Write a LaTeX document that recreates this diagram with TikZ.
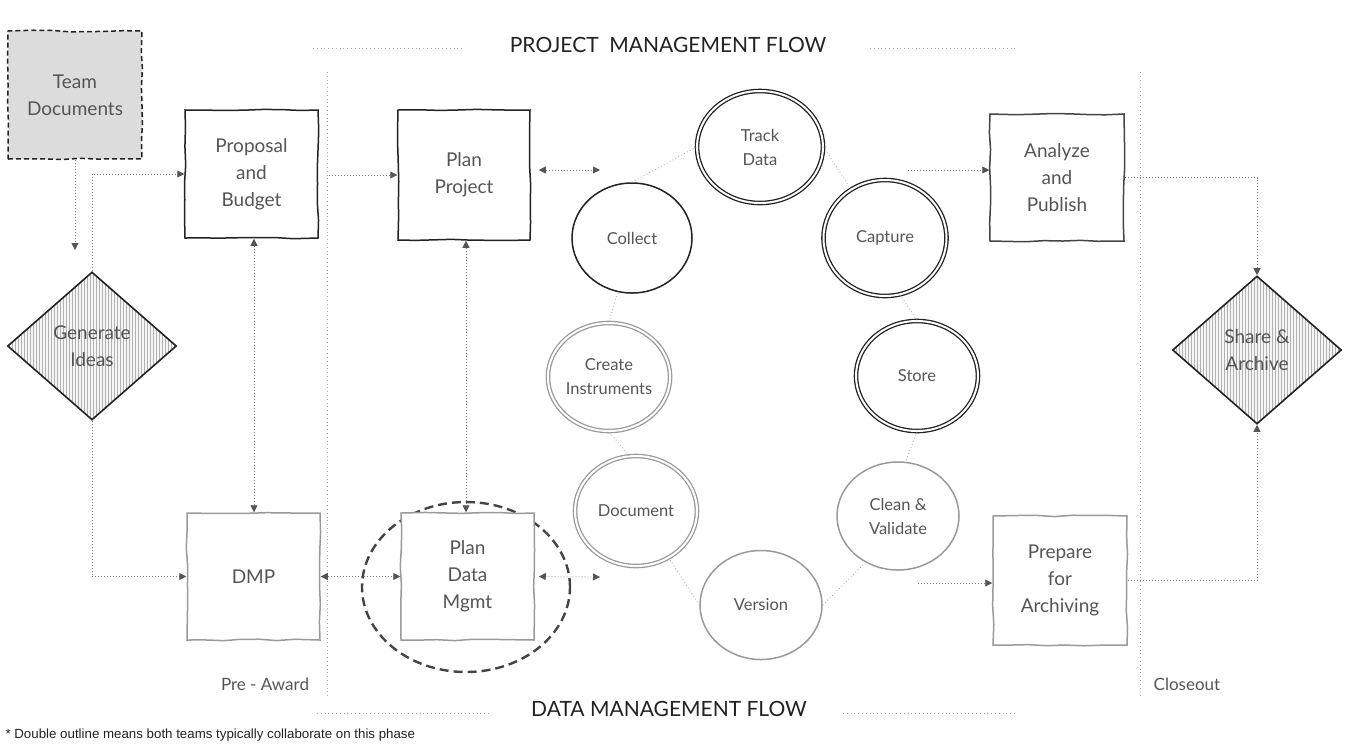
\documentclass[tikz,border=0pt]{standalone}
\usepackage{fontspec}
\setmainfont{Lato}
\newfontfamily\notefont{Liberation Sans}
\usetikzlibrary{shapes.geometric,arrows.meta,patterns,decorations.pathmorphing,calc}
\definecolor{ink}{HTML}{222222}
\definecolor{txt}{HTML}{555555}
\definecolor{lightline}{HTML}{9A9A9A}
\definecolor{midline}{HTML}{444444}
\definecolor{conn}{HTML}{7A7A7A}
\definecolor{tipc}{HTML}{555555}
\definecolor{sepc}{HTML}{AAAAAA}
\definecolor{tdfill}{HTML}{DCDCDC}
\begin{document}
\begin{tikzpicture}[x=1pt,y=-1pt,
  sk/.style={decorate,decoration={random steps,segment length=18pt,amplitude=0.8pt}},
  box/.style={rectangle,draw=#1,line width=1.5pt,fill=white,minimum width=133pt,minimum height=128pt,inner sep=0pt,align=center,text=txt,font=\fontsize{19}{27}\selectfont,sk},
  circ/.style={ellipse,inner sep=0pt,align=center,text=txt,fill=white,font=\fontsize{16.5}{24}\selectfont},
  dblk/.style={circ,draw=ink,line width=1.3pt,double=white,double distance=2pt},
  dbgr/.style={circ,draw=lightline,line width=1.3pt,double=white,double distance=2pt},
  sgbk/.style={circ,draw=ink,line width=1.5pt},
  sggr/.style={circ,draw=lightline,line width=1.5pt},
  dia/.style={diamond,draw=ink,line width=1.6pt,minimum width=169pt,minimum height=148pt,inner sep=0pt,aspect=1.14,align=center,text=txt,font=\fontsize{19}{27}\selectfont,preaction={fill=gray!8},pattern=vertical lines,pattern color=gray!60},
  flow/.style={draw=conn,line width=0.8pt,dash pattern=on 0.8pt off 2.2pt},
  tip/.style={-{Triangle[length=7pt,width=7pt,color=tipc]}},
  tips/.style={{Triangle[length=7pt,width=7pt,color=tipc]}-{Triangle[length=7pt,width=7pt,color=tipc]}},
  ring/.style={draw=sepc,line width=0.8pt,dash pattern=on 0.8pt off 2.5pt},
  sepline/.style={draw=sepc,line width=0.8pt,dash pattern=on 0.8pt off 3pt},
  lbl/.style={text=txt,font=\fontsize{17}{20}\selectfont},
  ttl/.style={text=ink,font=\fontsize{21}{24}\selectfont}
]
\useasboundingbox (0,0) rectangle (1349,748);

% separators and titles
\draw[sepline] (327,72) -- (327,697);
\draw[sepline] (1140,72) -- (1140,697);
\draw[sepline] (313,48) -- (465,48);
\draw[sepline] (870,48) -- (1015,48);
\draw[sepline] (317,713) -- (490,713);
\draw[sepline] (843,713) -- (1015,713);
\node[ttl] (ttop) at (668,45) {PROJECT\ \ MANAGEMENT FLOW};
\node[ttl] (tbot) at (669,709) {DATA MANAGEMENT FLOW};
\node[lbl] (pre) at (265,684) {Pre - Award};
\node[lbl] (close) at (1187,684) {Closeout};
\node[anchor=west,text=ink,font=\notefont\fontsize{13.3}{15}\selectfont] (note) at (2,735) {* Double outline means both teams typically collaborate on this phase};

% boxes
\node[box=ink,fill=tdfill,dash pattern=on 5pt off 3pt,minimum width=134pt] (td) at (75,95) {Team\\Documents};
\node[box=ink] (prop) at (251.5,174) {Proposal\\and\\Budget};
\node[box=lightline,minimum height=127pt] (dmp) at (253.5,576.5) {DMP};
\node[box=ink,minimum width=132pt,minimum height=130pt] (pp) at (464,175) {Plan\\Project};
\node[draw=midline,line width=2.4pt,dash pattern=on 9pt off 5pt,ellipse,minimum width=208pt,minimum height=170pt,inner sep=0pt] (pdmring) at (466,587) {};
\node[box=lightline,minimum height=127pt] (pdm) at (467.5,576.5) {Plan\\Data\\Mgmt};
\node[box=midline,minimum width=134pt,minimum height=127pt] (ap) at (1057,177.5) {Analyze\\and\\Publish};
\node[box=lightline,minimum width=134pt,minimum height=129pt] (pa) at (1060,580.5) {Prepare\\for\\Archiving};

% diamonds
\node[dia] (gi) at (92,346) {Generate\\Ideas};
\node[dia] (sa) at (1257,350) {Share \&\\Archive};

% cycle circles
\node[dblk,minimum width=126pt,minimum height=112pt] (track) at (760,147) {Track\\Data};
\node[dblk,minimum width=123pt,minimum height=116pt] (capture) at (885,238) {Capture};
\node[dblk,minimum width=122pt,minimum height=110pt] (store) at (917,376) {Store};
\node[sggr,minimum width=122pt,minimum height=108pt] (clean) at (898,516) {Clean \&\\Validate};
\node[sggr,minimum width=122pt,minimum height=109pt] (version) at (761,605) {Version};
\node[dbgr,minimum width=122pt,minimum height=110pt] (doc) at (636,511) {Document};
\node[dbgr,minimum width=122pt,minimum height=108pt] (ci) at (609,377) {Create\\Instruments};
\node[sgbk,minimum width=120pt,minimum height=110pt] (collect) at (632,238) {Collect};

% cycle links
\draw[ring] (collect.north) -- (track.west);
\draw[ring] (track.east) -- (capture.125);
\draw[ring] (capture.-75) -- (store.north);
\draw[ring] (store.south) -- (clean.82);
\draw[ring] (clean.-125) -- (version.east);
\draw[ring] (version.west) -- (doc.-55);
\draw[ring] (doc.97) -- (ci.south);
\draw[ring] (ci.north) -- (collect.-105);

% free end points
\coordinate (tdend) at (75,250);
\coordinate (ppout) at (600,170);
\coordinate (pdmout) at (600,577);
\coordinate (apin) at (908,170);
\coordinate (pain) at (918,583);

% connectors
\draw[flow,tip] (td.south) -- (tdend);
\draw[flow,tip] (gi.north) |- (prop.west);
\draw[flow,tip] (gi.south) |- (dmp.west);
\draw[flow,tips] (prop.south -| 254,0) -- (dmp.north -| 254,0);
\draw[flow,tip,shorten <=10pt] (prop.east |- pp.west) -- (pp.west);
\draw[flow,tips,shorten <=1pt] (pp.east |- ppout) ++(7,0) -- (ppout);
\draw[flow,tips] (pp.south -| 466,0) -- (pdm.north -| 466,0);
\draw[flow,tips] (dmp.east) -- (pdm.west);
\draw[flow,tips] ($(pdm.east)+(4,0)$) -- (pdmout);
\draw[flow,tip] (apin) -- (apin -| ap.west);
\draw[flow,tip] (ap.east) -| (sa.north);
\draw[flow,tip] (pain) -- (pain -| pa.west);
\draw[flow,tip] (pa.east) -| (sa.south);
\end{tikzpicture}
\end{document}
